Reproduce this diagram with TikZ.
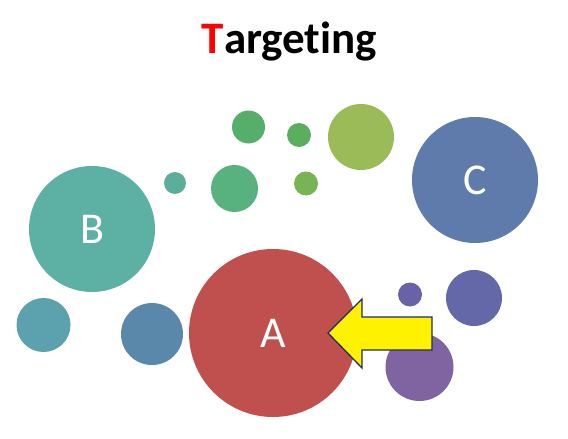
\documentclass[tikz,border=0pt]{standalone}
\usepackage{fontspec}
\setmainfont[Ligatures=NoCommon]{Carlito}

\definecolor{redA}{HTML}{C0504D}
\definecolor{tealB}{HTML}{5DB1A4}
\definecolor{blueC}{HTML}{5F7BAB}
\definecolor{tealL}{HTML}{5BA1AE}
\definecolor{blueL}{HTML}{5A88AA}
\definecolor{greenA}{HTML}{5AAE9A}
\definecolor{greenB}{HTML}{58B27F}
\definecolor{greenC}{HTML}{55AE6A}
\definecolor{greenD}{HTML}{5AAF5E}
\definecolor{greenE}{HTML}{78B455}
\definecolor{olive}{HTML}{9BBB59}
\definecolor{purpleS}{HTML}{6A62A8}
\definecolor{blueR}{HTML}{6468A8}
\definecolor{purpleB}{HTML}{8064A2}
\definecolor{titlered}{HTML}{FF0000}
\definecolor{arrowline}{HTML}{1F2A6B}

\begin{document}
\begin{tikzpicture}[
    x=1pt, y=-1pt,
    bubble/.style={circle, inner sep=0pt, minimum size=#1}, % Style for the circles
    letter/.style={text=white, font=\fontsize{44}{44}\selectfont}, % Style for A, B, C
    pointer/.style={fill=yellow, draw=arrowline, line width=1.3pt, line join=miter} % Style for the yellow arrow
]
    \useasboundingbox (0,0) rectangle (568,439);

    % Title
    \node[anchor=base, font=\bfseries\fontsize{45}{45}\selectfont] (title) at (289.5,53)
        {\textcolor{titlered}{T}argeting};

    % Small bubbles
    \node[bubble=54, fill=tealL] (left) at (43.5,325) {};
    \node[bubble=62, fill=blueL] (midleft) at (152,334) {};
    \node[bubble=22, fill=greenA] (dotA) at (175,183) {};
    \node[bubble=47, fill=greenB] (dotB) at (234.5,188.5) {};
    \node[bubble=33, fill=greenC] (dotC) at (248.5,127) {};
    \node[bubble=24, fill=greenD] (dotD) at (299,135) {};
    \node[bubble=24, fill=greenE] (dotE) at (306,183.5) {};
    \node[bubble=66, fill=olive] (dotF) at (361,137) {};
    \node[bubble=24, fill=purpleS] (dotG) at (410,294.5) {};
    \node[bubble=56, fill=blueR] (right) at (474,298) {};
    \node[bubble=68, fill=purpleB] (lower) at (419.5,367) {};

    % Big bubbles with letters
    \node[bubble=126, fill=tealB, letter] (B) at (92,229) {B};
    \node[bubble=126, fill=blueC, letter] (C) at (475,180) {C};
    \node[bubble=168, fill=redA, letter] (A) at (273,333) {A};

    % Arrow pointing at A
    \coordinate (tip) at (328,333);
    \draw[pointer] (tip) -- ++(34,-34) -- ++(0,18) -- ++(70,0) -- ++(0,33)
        -- ++(-70,0) -- ++(0,18) -- cycle;

\end{tikzpicture}
\end{document}
